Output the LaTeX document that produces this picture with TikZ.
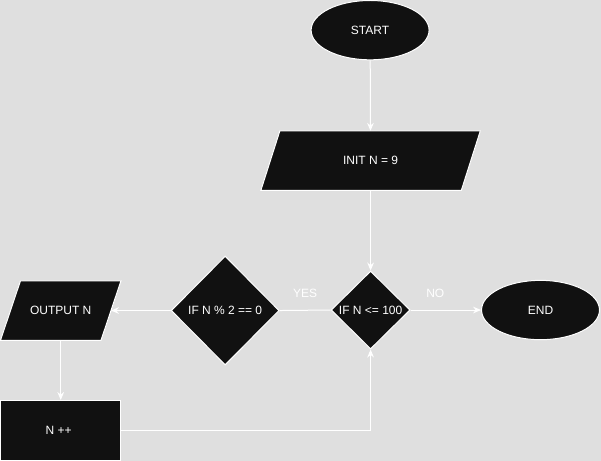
\documentclass[tikz,border=0pt]{standalone}
\usepackage{fontspec}
\setmainfont{Liberation Sans}
\usetikzlibrary{shapes.geometric,arrows.meta}
\definecolor{canvas}{HTML}{DFDFDF}
\definecolor{boxfill}{HTML}{111111}
\begin{document}
\begin{tikzpicture}[x=0.75pt,y=-0.75pt,
  txt/.style={font=\fontsize{9}{11}\selectfont, text=white, inner sep=0pt},
  block/.style={fill=boxfill, draw=white, line width=0.75pt},
  term/.style={block, ellipse, minimum width=88.5pt, minimum height=44.5pt, inner sep=0pt},
  decision/.style={block, diamond, inner sep=0pt},
  io/.style={rectangle, inner sep=0pt, minimum height=44.25pt},
  flow/.style={draw=white, line width=0.75pt},
  arrow/.style={flow, -{Stealth[length=6pt,width=5pt]}}]

% canvas
\path[fill=canvas] (0,0) rectangle (601,461);

% start / end terminals
\node[term] (start) at (370,30) {};
\node[txt] at (start) {START};
\node[term] (stop) at (540.5,310) {};
\node[txt] at (stop) {END};

% input: INIT N = 9
\node[io, minimum width=150pt] (init) at (370.5,160.5) {};
\path[block] ([xshift=7.125pt]init.north west) -- ([xshift=7.125pt]init.north east)
  -- ([xshift=-7.125pt]init.south east) -- ([xshift=-7.125pt]init.south west) -- cycle;
\node[txt] at (init) {INIT N = 9};

% loop condition
\node[decision, minimum width=59.25pt, minimum height=58.5pt] (cond) at (370.5,310) {};
\node[txt] at (cond) {IF N <= 100};

% parity test
\node[decision, minimum width=81pt, minimum height=81.75pt] (even) at (225,310.5) {};
\node[txt] at (even) {IF N \% 2 == 0};

% output: OUTPUT N
\node[io, minimum width=75pt] (out) at (60.5,310.5) {};
\path[block] ([xshift=7.5pt]out.north west) -- ([xshift=7.5pt]out.north east)
  -- ([xshift=-7.5pt]out.south east) -- ([xshift=-7.5pt]out.south west) -- cycle;
\node[txt] at (out) {OUTPUT N};

% increment
\node[block, rectangle, minimum width=90pt, minimum height=45pt, inner sep=0pt] (inc) at (60.5,430.5) {};
\node[txt] at ([xshift=-1.5pt]inc.center) {N ++};

% connectors
\draw[arrow] (start) -- (init);
\draw[arrow] (init) -- (cond);
\draw[flow] (cond.west) -- (even.east) node[txt, midway, above=9pt] {YES};
\draw[arrow] (cond.east) -- (stop.west) node[txt, pos=0.35, above=9pt] {NO};
\draw[arrow] (even.west) -- (out.east);
\draw[arrow] (out) -- (inc);
\draw[arrow] (inc.east) -| (cond.south);
\end{tikzpicture}
\end{document}
